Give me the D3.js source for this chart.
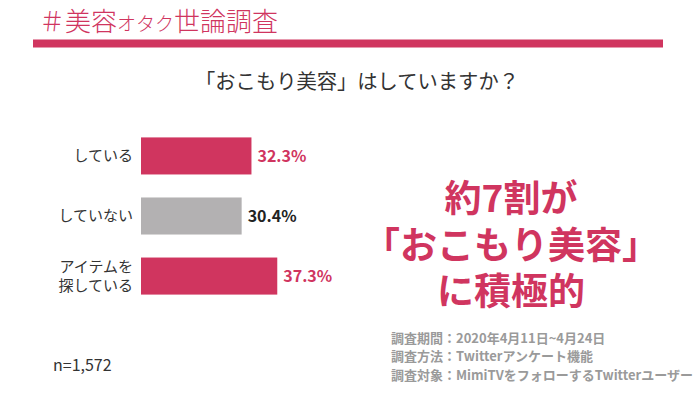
<!DOCTYPE html>
<html>
<head>
<meta charset="utf-8">
<script src="https://cdn.jsdelivr.net/npm/d3@7"></script>
<style>
  body { margin: 0; background: #fff; }
  svg text { font-family: "Noto Sans CJK JP", "Noto Sans", sans-serif; }
</style>
</head>
<body>
<div id="chart"></div>
<script>
// survey data
const categories = ["している", "していない", "アイテムを\n探している"];
const values = [32.3, 30.4, 37.3];
const highlight = [true, false, true];
const notes = [
  "調査期間：2020年4月11日~4月24日",
  "調査方法：Twitterアンケート機能",
  "調査対象：MimiTVをフォローするTwitterユーザー"
];
const headline = ["約7割が", "「おこもり美容」", "に積極的"];

const pink = "#d0355f", gray = "#b3b1b2";

const svg = d3.select("#chart").append("svg")
  .attr("width", 700).attr("height", 394);

// title
const title = svg.append("text")
  .attr("x", 39).attr("y", 31)
  .attr("fill", pink)
  .attr("font-size", 26)
  .attr("font-weight", 300);
title.append("tspan").text("＃美容");
title.append("tspan").attr("font-size", 19).text("オタク");
title.append("tspan").text("世論調査");

svg.append("rect")
  .attr("x", 33).attr("y", 39.5)
  .attr("width", 630).attr("height", 8)
  .attr("fill", pink);

// question
svg.append("text")
  .attr("x", 357).attr("y", 89)
  .attr("text-anchor", "middle")
  .attr("font-size", 20.3)
  .attr("fill", "#333")
  .text("「おこもり美容」はしていますか？");

// scales
const x = d3.scaleLinear().domain([10.9, 40]).range([141, 291.2]);
const y = d3.scaleBand().domain(categories).range([126, 306])
  .paddingInner(0.383).paddingOuter(0.19);

svg.selectAll(".bar")
  .data(categories)
  .enter().append("rect")
  .attr("class", "bar")
  .attr("x", x(10.9))
  .attr("y", d => y(d))
  .attr("width", (d, i) => x(values[i]) - x(10.9))
  .attr("height", y.bandwidth())
  .attr("fill", (d, i) => highlight[i] ? pink : gray);

svg.selectAll(".val")
  .data(categories)
  .enter().append("text")
  .attr("class", "val")
  .attr("x", (d, i) => x(values[i]) + 6)
  .attr("y", d => y(d) + y.bandwidth() / 2)
  .attr("dy", "0.36em")
  .attr("font-size", 16)
  .attr("font-weight", 700)
  .attr("fill", (d, i) => highlight[i] ? pink : "#222")
  .text((d, i) => values[i].toFixed(1) + "%");

// category labels (multi-line)
svg.selectAll(".cat")
  .data(categories)
  .enter().append("text")
  .attr("class", "cat")
  .attr("text-anchor", "end")
  .attr("font-size", 15)
  .attr("fill", "#333")
  .each(function(d) {
    const lines = d.split("\n");
    const cy = y(d) + y.bandwidth() / 2;
    lines.forEach((s, k) => {
      d3.select(this).append("tspan")
        .attr("x", 133)
        .attr("y", cy + (k - (lines.length - 1) / 2) * 19)
        .attr("dy", "0.36em")
        .text(s);
    });
  });

// headline
svg.selectAll(".head")
  .data(headline)
  .enter().append("text")
  .attr("class", "head")
  .attr("x", 511)
  .attr("y", (d, i) => 199 + i * 46.5)
  .attr("dy", "0.36em")
  .attr("text-anchor", "middle")
  .attr("font-size", 37)
  .attr("font-weight", 700)
  .attr("fill", pink)
  .text(d => d);

// notes
svg.selectAll(".note")
  .data(notes)
  .enter().append("text")
  .attr("class", "note")
  .attr("x", 391)
  .attr("y", (d, i) => 338 + i * 18.5)
  .attr("dy", "0.36em")
  .attr("font-size", 13)
  .attr("font-weight", 700)
  .attr("fill", "#9a9a9a")
  .text(d => d);

svg.append("text")
  .attr("x", 53).attr("y", 365)
  .attr("dy", "0.36em")
  .attr("font-size", 16)
  .attr("fill", "#333")
  .text("n=1,572");
</script>
</body>
</html>
